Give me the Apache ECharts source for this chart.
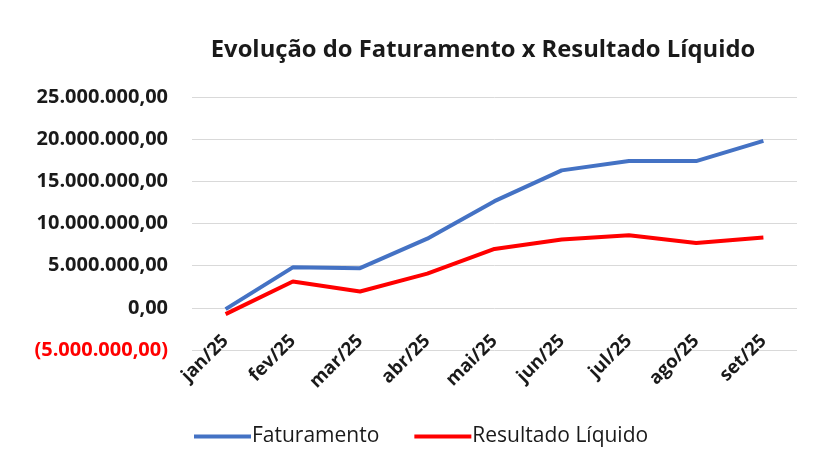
<!DOCTYPE html>
<html>
<head>
<meta charset="utf-8">
<script src="https://cdn.jsdelivr.net/npm/echarts@6/dist/echarts.min.js"></script>
<style>html,body{margin:0;padding:0;background:#fff}#c{width:815px;height:461px}</style>
</head>
<body>
<div id="c"></div>
<script>
const categories = ['jan/25','fev/25','mar/25','abr/25','mai/25','jun/25','jul/25','ago/25','set/25'];
const faturamento = [-150000, 4800000, 4700000, 8200000, 12650000, 16300000, 17400000, 17400000, 19800000];
const resultadoLiquido = [-750000, 3130000, 1940000, 4050000, 6980000, 8100000, 8600000, 7700000, 8330000];
const yMin = -5000000, yMax = 25000000, yStep = 5000000;
const titleText = 'Evolução do Faturamento x Resultado Líquido';
const seriesNames = ['Faturamento', 'Resultado Líquido'];

function fmt(v) {
  const a = Math.abs(v);
  const parts = a.toFixed(2).split('.');
  const intp = parts[0].replace(/\B(?=(\d{3})+(?!\d))/g, '.');
  const s = intp + ',' + parts[1];
  return v < 0 ? '{neg|(' + s + ')}' : s;
}
const FONT = 'Open Sans';
const chart = echarts.init(document.getElementById('c'), null, {renderer: 'canvas'});
chart.setOption({
  backgroundColor: '#fff',
  animation: false,
  title: {
    text: titleText, left: 478, textAlign: 'center', top: 33,
    textStyle: {fontFamily: FONT, fontWeight: 'bold', fontSize: 23.8, color: '#1a1a1a'}
  },
  grid: {left: 192, right: 18, top: 97, bottom: 111, containLabel: false},
  xAxis: {
    type: 'category', data: categories, boundaryGap: true,
    axisLine: {show: false, onZero: false}, axisTick: {show: false},
    axisLabel: {rotate: 45, margin: -12, fontFamily: FONT, fontWeight: 'bold', fontSize: 18.5, color: '#1a1a1a', interval: 0}
  },
  yAxis: {
    type: 'value', min: yMin, max: yMax, interval: yStep,
    axisLine: {show: false}, axisTick: {show: false},
    splitLine: {lineStyle: {color: '#d9d9d9', width: 1}},
    axisLabel: {
      margin: 24, fontFamily: FONT, fontWeight: 'bold', fontSize: 20, color: '#1a1a1a',
      formatter: fmt,
      rich: {neg: {color: '#ff0000', fontFamily: FONT, fontWeight: 'bold', fontSize: 20}}
    }
  },
  legend: {
    bottom: 9, left: 189, itemWidth: 57, itemHeight: 4, itemGap: 35, icon: 'rect',
    textStyle: {fontFamily: FONT, fontSize: 21, color: '#1a1a1a', padding: [0,0,0,-4]},
    data: seriesNames
  },
  series: [
    {name: seriesNames[0], type: 'line', data: faturamento, symbol: 'none', smooth: false,
     lineStyle: {color: '#4472c4', width: 4}, itemStyle: {color: '#4472c4'}},
    {name: seriesNames[1], type: 'line', data: resultadoLiquido, symbol: 'none', smooth: false,
     lineStyle: {color: '#ff0000', width: 4}, itemStyle: {color: '#ff0000'}}
  ]
});
</script>
</body>
</html>
